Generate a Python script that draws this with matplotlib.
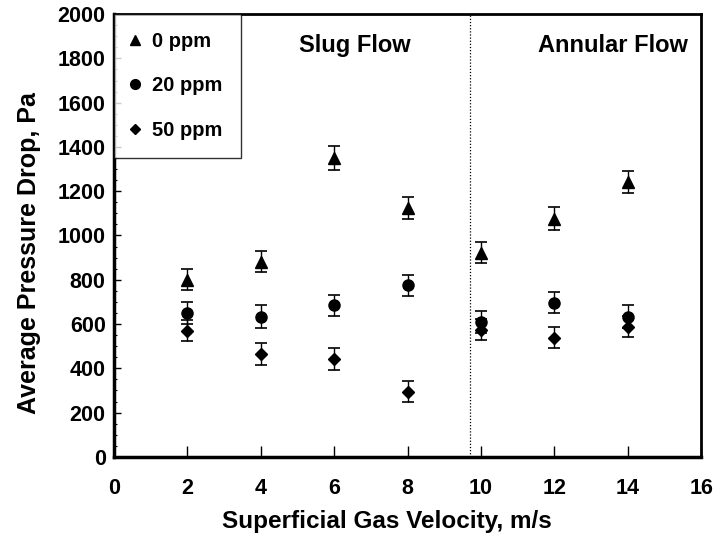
import matplotlib.pyplot as plt
from matplotlib.lines import Line2D
from matplotlib.ticker import MultipleLocator

plt.rcParams["font.family"] = ["Liberation Sans", "DejaVu Sans"]
plt.rcParams["font.weight"] = "bold"

velocity = [2, 4, 6, 8, 10, 12, 14]

dp_0ppm = [800, 882, 1350, 1126, 922, 1076, 1242]
dp_20ppm = [650, 634, 684, 775, 610, 697, 634]
dp_50ppm = [570, 466, 443, 295, 574, 538, 588]

err_0ppm = [48, 48, 52, 50, 48, 52, 48]
err_20ppm = [50, 50, 48, 48, 50, 48, 50]
err_50ppm = [48, 50, 50, 48, 48, 48, 48]

series = [
    ("0 ppm", dp_0ppm, err_0ppm, "^", 8),
    ("20 ppm", dp_20ppm, err_20ppm, "o", 8),
    ("50 ppm", dp_50ppm, err_50ppm, "D", 6),
]

regime_boundary = 9.7

fig = plt.figure(figsize=(7.17, 5.42), dpi=100)
ax = fig.add_axes([0.159, 0.157, 0.819, 0.817])

handles = []
for label, vals, errs, marker, ms in series:
    ax.errorbar(velocity, vals, yerr=errs, fmt="none", ecolor="black",
                elinewidth=1.0, capsize=4, capthick=1.2)
    ax.plot(velocity, vals, linestyle="none", marker=marker, markersize=ms,
            color="black")
    handles.append(Line2D([], [], linestyle="none", marker=marker,
                          markersize=ms - 1, color="black", label=label))

ax.axvline(regime_boundary, color="black", linestyle=(0, (1, 1.5)), linewidth=0.9)

ax.text(6.55, 1860, "Slug Flow", ha="center", va="center", fontsize=17,
        fontweight="bold")
ax.text(13.6, 1860, "Annular Flow", ha="center", va="center", fontsize=17,
        fontweight="bold")

ax.set_xlim(0, 16)
ax.set_ylim(0, 2000)
ax.xaxis.set_major_locator(MultipleLocator(2))
ax.yaxis.set_major_locator(MultipleLocator(200))
ax.yaxis.set_minor_locator(MultipleLocator(50))

ax.tick_params(axis="x", direction="in", length=8, width=1.0, labelsize=15.5,
               pad=15)
ax.tick_params(axis="y", direction="in", length=5, width=1.0, labelsize=15.5,
               pad=6)
ax.tick_params(axis="y", which="minor", direction="in", length=2, width=0.8)
for lab in ax.get_xticklabels() + ax.get_yticklabels():
    lab.set_fontweight("bold")

for side in ["left", "bottom"]:
    ax.spines[side].set_linewidth(2.5)
for side in ["top", "right"]:
    ax.spines[side].set_linewidth(2.0)

ax.set_xlabel("Superficial Gas Velocity, m/s", fontsize=17.5, fontweight="bold",
              labelpad=8, x=0.465)
ax.set_ylabel("Average Pressure Drop, Pa", fontsize=18, fontweight="bold",
              labelpad=12, y=0.46)

leg = ax.legend(handles=handles, loc="upper left", fontsize=14.5, frameon=True,
                fancybox=False, edgecolor="black", borderaxespad=0,
                labelspacing=1.25, handletextpad=0.7, handlelength=0.3,
                borderpad=0.9)
leg.get_frame().set_linewidth(1.0)
for t in leg.get_texts():
    t.set_fontweight("bold")

fig.savefig("out.png", dpi=100)
